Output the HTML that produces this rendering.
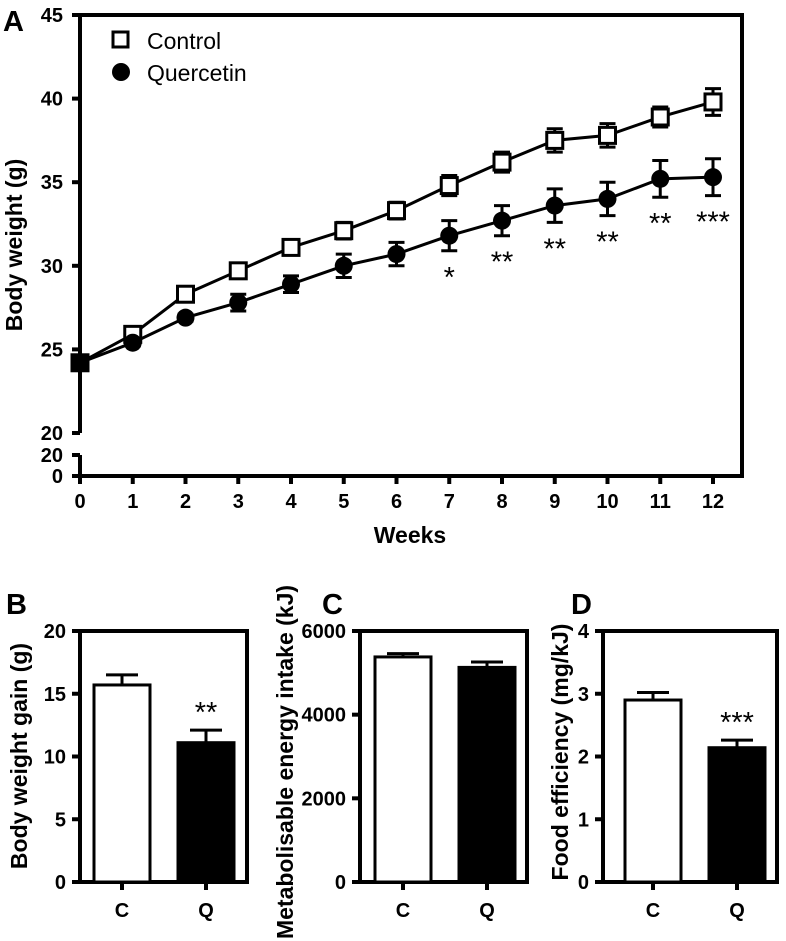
<!DOCTYPE html>
<html><head><meta charset="utf-8"><style>
html,body{margin:0;padding:0;background:#fff;}
svg{display:block;font-family:"Liberation Sans",Arial,sans-serif;}
</style></head><body>
<svg id="fig" width="786" height="941" viewBox="0 0 786 941" xmlns="http://www.w3.org/2000/svg"></svg>
<script>
const weeks=[0,1,2,3,4,5,6,7,8,9,10,11,12];
const controlMean=[24.2,25.9,28.3,29.7,31.1,32.1,33.3,34.8,36.2,37.5,37.8,38.9,39.8];
const controlErr=[0.2,0.3,0.3,0.3,0.3,0.5,0.5,0.6,0.6,0.7,0.7,0.6,0.8];
const quercetinMean=[24.2,25.4,26.9,27.8,28.9,30.0,30.7,31.8,32.7,33.6,34.0,35.2,35.3];
const quercetinErr=[0,0.2,0.2,0.5,0.5,0.7,0.7,0.9,0.9,1.0,1.0,1.1,1.1];
const sigLabels=["","","","","","","","*","**","**","**","**","***"];
const yTicksA=[20,25,30,35,40,45];
const groups=["C","Q"];
const gainMean=[15.7,11.1];const gainErr=[0.8,1.0];const gainSig=["","**"];const gainTicks=[0,5,10,15,20];
const energyMean=[5380,5130];const energyErr=[80,130];const energySig=["",""];const energyTicks=[0,2000,4000,6000];
const effMean=[2.9,2.14];const effErr=[0.12,0.12];const effSig=["","***"];const effTicks=[0,1,2,3,4];

const NS="http://www.w3.org/2000/svg";
const svg=document.getElementById('fig');
function el(tag,attrs,parent,text){const e=document.createElementNS(NS,tag);for(const k in attrs)e.setAttribute(k,attrs[k]);if(text!==undefined)e.textContent=text;(parent||svg).appendChild(e);return e;}
const B='stroke:#000;stroke-width:4;fill:none';
const TF=20, TT=23, SF=29;
// ---- Panel A
const ax=80,ax2=742,ay0=433,ay1=15;
const X=w=>ax+(w-0)*(713-80)/12;
const Y=v=>ay0-(v-20)*(ay0-ay1)/25;
let gA=el('g',{});

let t=el('text',{x:3,y:31,'font-size':29,'font-weight':'bold'},gA,'A');

let frame=el('path',{d:`M${ax},${ay0} V${ay1} H${ax2} V476 H${ax} V455`,style:B},gA);

el('line',{x1:72,x2:ax,y1:455,y2:455,style:B},gA);
el('line',{x1:72,x2:ax,y1:476,y2:476,style:B},gA);
yTicksA.forEach(v=>{el('line',{x1:72,x2:ax,y1:Y(v),y2:Y(v),style:B},gA);
 let tl=el('text',{x:63,y:Y(v)+7,'font-size':TF,'font-weight':'bold','text-anchor':'end'},gA,String(v));
 });
el('text',{x:63,y:462,'font-size':TF,'font-weight':'bold','text-anchor':'end'},gA,'20');
el('text',{x:63,y:483,'font-size':TF,'font-weight':'bold','text-anchor':'end'},gA,'0');
weeks.forEach(w=>{el('line',{x1:X(w),x2:X(w),y1:476,y2:484,style:B},gA);
 let tl=el('text',{x:X(w),y:508,'font-size':TF,'font-weight':'bold','text-anchor':'middle'},gA,String(w));
 });
t=el('text',{x:410,y:543,'font-size':TT,'font-weight':'bold','text-anchor':'middle'},gA,'Weeks');

t=el('text',{x:0,y:0,'font-size':TT,'font-weight':'bold','text-anchor':'middle',transform:'translate(22,245) rotate(-90)'},gA,'Body weight (g)');

function series(mean,err,name,marker){
 let g=el('g',{},gA);
 el('polyline',{points:weeks.map((w,i)=>X(w)+','+Y(mean[i])).join(' '),style:'stroke:#000;stroke-width:3;fill:none'},g);
 weeks.forEach((w,i)=>{const x=X(w),y=Y(mean[i]);
  if(err[i]>0){const yt=Y(mean[i]+err[i]),yb=Y(mean[i]-err[i]);
   el('path',{d:`M${x},${yt} V${yb} M${x-8},${yt} H${x+8} M${x-8},${yb} H${x+8}`,style:'stroke:#000;stroke-width:3;fill:none'},g);}
  let m;
  if(marker==='sq') m=el('rect',{x:x-8,y:y-8,width:16,height:16,fill:'#fff',stroke:'#000','stroke-width':3},g);
  else m=el('circle',{cx:x,cy:y,r:9,fill:'#000'},g);
  
 });
}
series(controlMean,controlErr,'control','sq');
series(quercetinMean,quercetinErr,'quercetin','ci');
el('rect',{x:X(0)-9,y:Y(24.2)-9,width:18,height:18,fill:'#000'},gA);
weeks.forEach((w,i)=>{if(!sigLabels[i])return;
 let s=el('text',{x:X(w),y:Y(quercetinMean[i]-quercetinErr[i])+36,'font-size':SF,'text-anchor':'middle'},gA,sigLabels[i]);
 });
let lg=el('g',{},gA);
let le=el('g',{},lg);
el('rect',{x:113,y:32,width:15,height:15,fill:'#fff',stroke:'#000','stroke-width':3},le);
el('text',{x:147,y:49,'font-size':23},le,'Control');
le=el('g',{},lg);
el('circle',{cx:121,cy:72,r:9,fill:'#000'},le);
el('text',{x:147,y:81,'font-size':23},le,'Quercetin');

// ---- Bar panels
function barPanel(o){
 let g=el('g',{});
 const top=631,bot=882,L=o.left,R=o.right,max=o.ticks[o.ticks.length-1];
 const Yb=v=>bot-v*(bot-top)/max;
 let t=el('text',{x:o.lx,y:614,'font-size':29,'font-weight':'bold'},g,o.letter);
 
 el('path',{d:`M${L},${top} V${bot} H${R} V${top} Z`,style:B},g);
 o.ticks.forEach(v=>{el('line',{x1:L-8,x2:L,y1:Yb(v),y2:Yb(v),style:B},g);
  let tl=el('text',{x:L-14,y:Yb(v)+7,'font-size':TF,'font-weight':'bold','text-anchor':'end'},g,String(v));
  });
 const bw=56;
 groups.forEach((c,i)=>{const x0=o.bx[i];const cx=x0+bw/2;
  let r=el('rect',{x:x0,y:Yb(o.mean[i]),width:bw,height:bot-Yb(o.mean[i]),fill:i?'#000':'#fff',stroke:'#000','stroke-width':3},g);
  
  const ye=Yb(o.mean[i]+o.err[i]);
  el('path',{d:`M${cx},${Yb(o.mean[i])} V${ye} M${cx-16},${ye} H${cx+16}`,style:'stroke:#000;stroke-width:3;fill:none'},g);
  el('line',{x1:cx,x2:cx,y1:bot,y2:bot+8,style:B},g);
  let tl=el('text',{x:cx,y:917,'font-size':TF,'font-weight':'bold','text-anchor':'middle'},g,c);
  
  if(o.sig[i]){let s=el('text',{x:cx,y:ye-8,'font-size':SF,'text-anchor':'middle'},g,o.sig[i]);
   }
 });
 t=el('text',{x:0,y:0,'font-size':TT,'font-weight':'bold','text-anchor':'middle',transform:`translate(${o.tx},${o.ty}) rotate(-90)`},g,o.title);
 
}
barPanel({name:'panel-b',letter:'B',lx:6,left:80,right:247,bx:[94,178],mean:gainMean,err:gainErr,sig:gainSig,ticks:gainTicks,tx:27,ty:756,title:'Body weight gain (g)'});
barPanel({name:'panel-c',letter:'C',lx:322,left:360,right:527,bx:[375,459],mean:energyMean,err:energyErr,sig:energySig,ticks:energyTicks,tx:293,ty:762,title:'Metabolisable energy intake (kJ)'});
barPanel({name:'panel-d',letter:'D',lx:571,left:603,right:777,bx:[625,709],mean:effMean,err:effErr,sig:effSig,ticks:effTicks,tx:568,ty:752,title:'Food efficiency (mg/kJ)'});
</script>
</body></html>
